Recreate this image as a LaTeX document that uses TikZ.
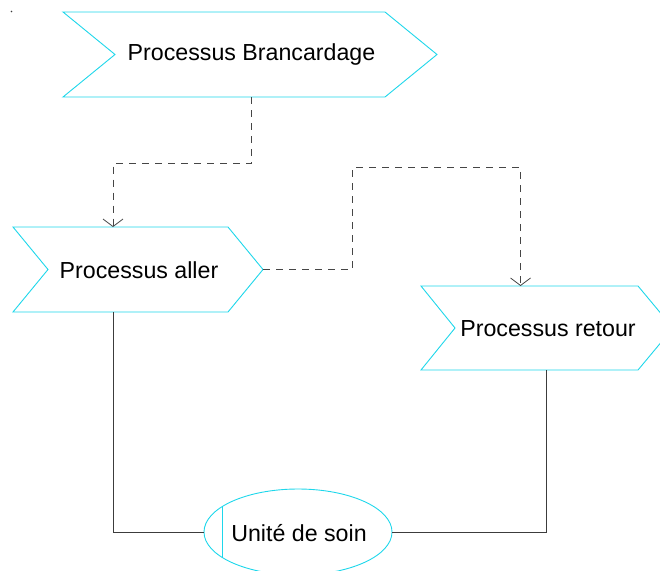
\documentclass[tikz,border=0pt]{standalone}
\usepackage{fontspec}
\setmainfont{Liberation Sans}
\usetikzlibrary{arrows.meta,calc,shapes.geometric}
\definecolor{chevcol}{RGB}{30,215,235}
\definecolor{linecol}{RGB}{60,60,60}
\definecolor{dashcol}{RGB}{70,70,70}
\tikzset{
  body/.style={draw=none,inner sep=0pt,outer sep=0pt},
  chev/.style={draw=chevcol,line width=0.9pt,fill=white},
  lbl/.style={inner sep=0pt,font=\fontsize{23.2}{27}\selectfont,text=black},
  flowdash/.style={draw=dashcol,line width=0.9pt,dash pattern=on 7pt off 6pt,
    -{Straight Barb[length=7.5pt,width=20pt,line width=0.8pt]}},
  flowline/.style={draw=linecol,line width=0.9pt},
}
\begin{document}
\begin{tikzpicture}[x=1pt,y=-1pt]
\useasboundingbox (0,0) rectangle (660,570);
\clip (0,0) rectangle (660,570);
% small dot
\fill[linecol] (11.5,11.5) circle (0.8);
% Processus Brancardage
\node[body,minimum width=322pt,minimum height=85pt] (B) at (224,54.5) {};
\draw[chev] (B.north west) -- (B.north east) -- ([xshift=52pt]B.east) -- (B.south east) -- (B.south west) -- ([xshift=52pt]B.west) -- cycle;
\node[lbl] (Bt) at (251.5,55) {Processus Brancardage};
% Processus aller
\node[body,minimum width=215pt,minimum height=85pt] (A) at (120.5,269.5) {};
\draw[chev] (A.north west) -- (A.north east) -- ([xshift=35pt]A.east) -- (A.south east) -- (A.south west) -- ([xshift=35pt]A.west) -- cycle;
\node[lbl] (At) at (139,270) {Processus aller};
\coordinate (Atip) at ([xshift=35pt]A.east);
% Processus retour
\node[body,minimum width=217pt,minimum height=84pt] (R) at (529.5,328) {};
\draw[chev] (R.north west) -- (R.north east) -- ([xshift=35pt]R.east) -- (R.south east) -- (R.south west) -- ([xshift=34pt]R.west) -- cycle;
\node[lbl] (Rt) at (548,329) {Processus retour};
% Unite de soin
\node[draw=chevcol,line width=0.9pt,ellipse,minimum width=188pt,minimum height=86pt,inner sep=0pt] (U) at (298,532) {};
\path[draw=chevcol,line width=0.9pt] (222,506.5) -- (222,557.5);
\node[lbl] (Ut) at (299,533) {Unité de soin};
% connectors
\draw[flowdash] (Bt |- B.south) -- ++(0,66) -| ([xshift=-7.5pt]A.north);
\draw[flowdash] (Atip) -- ++(89,0) |- ++(0,-102) -| ([xshift=-9pt]R.north);
\draw[flowline] ([xshift=-7.5pt]A.south) |- (U.west);
\draw[flowline] ([xshift=16.5pt]R.south) |- (U.east);
\end{tikzpicture}
\end{document}
